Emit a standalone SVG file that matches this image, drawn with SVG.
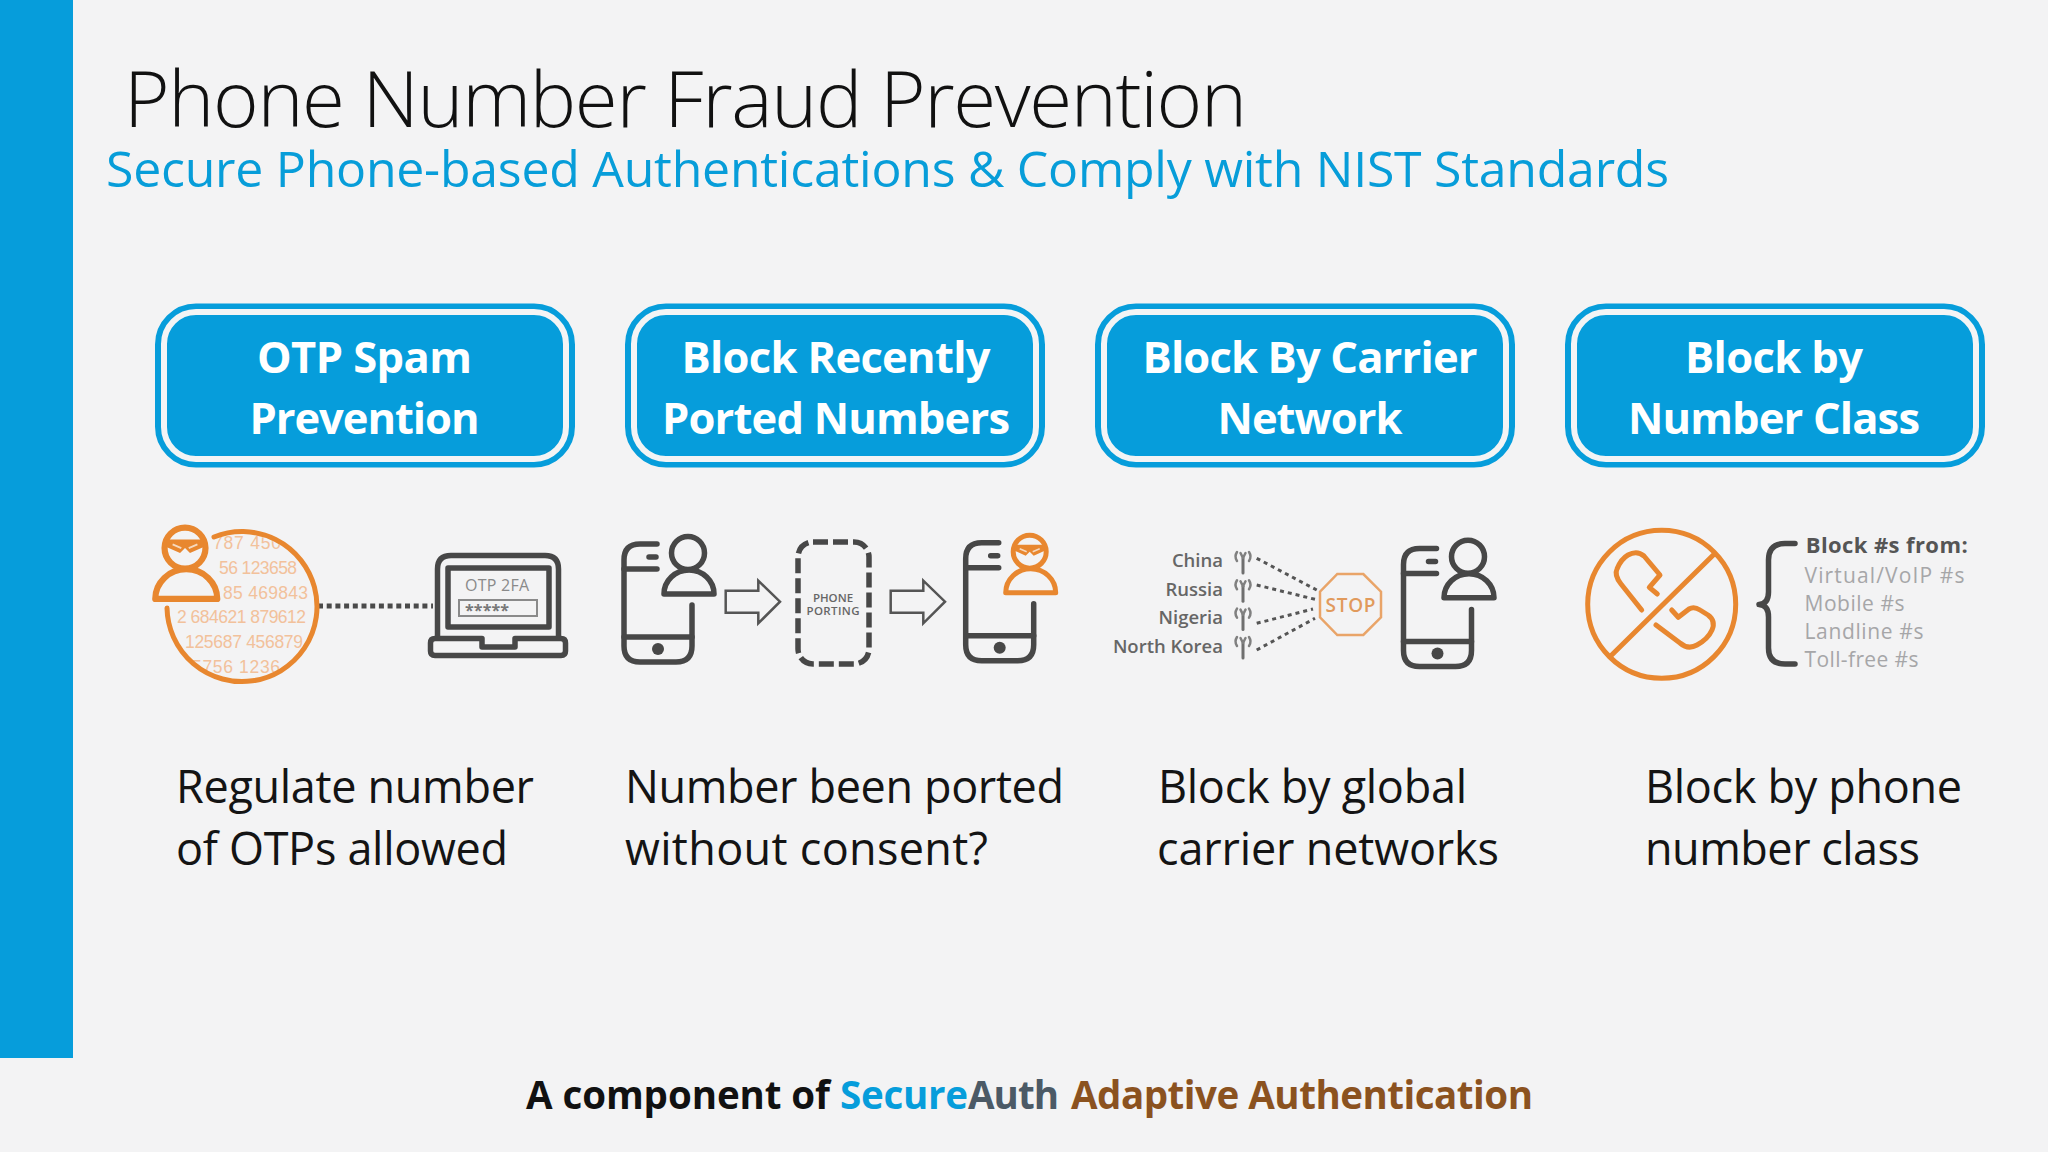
<svg xmlns="http://www.w3.org/2000/svg" width="2048" height="1152" viewBox="0 0 2048 1152">
<style>
text{font-family:"Open Sans","Noto Sans","Liberation Sans",sans-serif}
.hd{font-size:43.500px;font-weight:700;fill:#fff;text-anchor:middle}
.bd{font-size:45px;fill:#141414}
.ft{font-size:38.500px;font-weight:700}
.dk{fill:none;stroke:#474747;stroke-width:5.500;stroke-linecap:round;stroke-linejoin:round}
.or{fill:none;stroke:#e8872f;stroke-width:5;stroke-linecap:round;stroke-linejoin:round}
.num{font-size:17.500px;fill:#f2c19b;font-family:"Liberation Sans",sans-serif}
.cty{font-size:18.500px;font-weight:600;fill:#666;text-anchor:end}
.cls{font-size:21px;fill:#a6a6a8}
.dot{fill:none;stroke:#555;stroke-width:3;stroke-dasharray:4 4}
.arw{fill:none;stroke:#555;stroke-width:2.500;stroke-linejoin:miter}
.ant{fill:none;stroke:#808080;stroke-width:2.500;stroke-linecap:round}
.blue{fill:#069ddb;stroke:#069ddb;stroke-width:6}
.ring{fill:none;stroke:#f3f4f5;stroke-width:6}
</style>
<defs>
<clipPath id="numclip"><circle cx="241" cy="607" r="73"/></clipPath>
<g id="phone">
<path class="dk" d="M657,544H640Q624,544 624,560V646Q624,662 640,662H676Q692,662 692,646V605"/>
<path class="dk" d="M624,569H657M649,557H656M624,637H692"/>
<circle cx="658" cy="649" r="6" fill="#474747"/>
</g>
<g id="person">
<circle class="dk" cx="688" cy="553" r="16.500"/>
<path class="dk" d="M664,594A25,24 0 0 1 714,594Z"/>
</g>
<g id="bandit">
<circle class="or" cx="688" cy="553" r="16.500"/>
<path class="or" d="M664,594A25,24 0 0 1 714,594Z"/>
<path d="M673,546H703L703,552L692,557L688,553L684,557L673,552Z" fill="#e8872f"/>
<path d="M678,550L685,553M698,550L691,553" stroke="#f6d9bf" stroke-width="1.500" fill="none"/>
</g>
<g id="antenna">
<path d="M1243,558V573" fill="none" stroke="#6f6f6f" stroke-width="3" stroke-linecap="round"/>
<path class="ant" d="M1243,558L1240.500,553M1243,558L1245.500,553M1237,552Q1234,556.500 1237,561M1249,552Q1252,556.500 1249,561"/>
</g>
</defs>
<rect id="background" width="2048" height="1152" fill="#f3f3f4"/>
<rect id="sidebar" width="73" height="1058" fill="#069ddb"/>
<g id="heading">
<text x="124" y="127" font-size="78" font-weight="350" fill="#111" textLength="1123">Phone Number Fraud Prevention</text>
<text x="106" y="186.500" font-size="50" fill="#079dd9" textLength="1563">Secure Phone-based Authentications &amp; Comply with NIST Standards</text>
</g>
<g id="connectors">
<path d="M318,606H433" fill="none" stroke="#4a4a4a" stroke-width="5" stroke-dasharray="5 3.700"/>
<path class="arw" d="M725.700,590.700H758.300V580.700L780,601.700L758.300,623.300V612.700H725.700Z"/>
<path class="arw" transform="translate(165,0)" d="M725.700,590.700H758.300V580.700L780,601.700L758.300,623.300V612.700H725.700Z"/>
<path class="dot" d="M1256.700,558.300L1316.700,590M1256.700,585L1315,599.300M1256.700,623.300L1313,609M1256.700,650L1315,618.300"/>
</g>
<g id="node-otp-spam">
<rect class="blue" x="158" y="306.500" width="414" height="158" rx="38"/>
<rect class="ring" x="164" y="312" width="402" height="147" rx="32"/>
<text class="hd" x="364.500" y="372.500" textLength="215">OTP Spam</text>
<text class="hd" x="364.500" y="433.500" textLength="230">Prevention</text>
</g>
<g id="node-ported">
<rect class="blue" x="628" y="306.500" width="414" height="158" rx="38"/>
<rect class="ring" x="634" y="312" width="402" height="147" rx="32"/>
<text class="hd" x="836" y="372.500" textLength="309">Block Recently</text>
<text class="hd" x="836" y="433.500" textLength="348">Ported Numbers</text>
</g>
<g id="node-carrier">
<rect class="blue" x="1098" y="306.500" width="414" height="158" rx="38"/>
<rect class="ring" x="1104" y="312" width="402" height="147" rx="32"/>
<text class="hd" x="1310" y="372.500" textLength="335">Block By Carrier</text>
<text class="hd" x="1310" y="433.500" textLength="185">Network</text>
</g>
<g id="node-class">
<rect class="blue" x="1568" y="306.500" width="414" height="158" rx="38"/>
<rect class="ring" x="1574" y="312" width="402" height="147" rx="32"/>
<text class="hd" x="1774" y="372.500" textLength="178">Block by</text>
<text class="hd" x="1774" y="433.500" textLength="292">Number Class</text>
</g>
<g id="icon-otp">
<g clip-path="url(#numclip)">
<text class="num" x="213" y="549" textLength="68">787 450</text>
<text class="num" x="219" y="574" textLength="78">56 123658</text>
<text class="num" x="223" y="599" textLength="85">85 469843</text>
<text class="num" x="177" y="623" textLength="129">2 684621 879612</text>
<text class="num" x="185" y="648" textLength="118">125687 456879</text>
<text class="num" x="192" y="673" textLength="88">5756 1236</text>
</g>
<path class="or" d="M214,537A75,75 0 1 1 167,608"/>
<use href="#bandit" transform="translate(-668.100,-137.600) scale(1.240)"/>
<path class="dk" d="M437.500,637V569Q437.500,555.500 451,555.500H545Q558.500,555.500 558.500,569V637"/>
<rect class="dk" x="448" y="568" width="101" height="59"/>
<path class="dk" d="M435,638.500H482V647H515V638.500H561Q565.500,638.500 565.500,643V651Q565.500,655.500 561,655.500H435Q430.500,655.500 430.500,651V643Q430.500,638.500 435,638.500Z"/>
<text x="497" y="591" font-size="16" fill="#8a8a8a" text-anchor="middle" textLength="64">OTP 2FA</text>
<rect x="459" y="600" width="78" height="16" fill="none" stroke="#8a8a8a" stroke-width="2"/>
<text x="465" y="616" font-size="16" font-weight="700" fill="#777" textLength="44">*****</text>
</g>
<g id="icon-porting">
<use href="#phone"/>
<use href="#person"/>
<rect x="798" y="542" width="71" height="122" rx="15" fill="none" stroke="#474747" stroke-width="5.500" stroke-dasharray="15 5"/>
<text x="833" y="602" font-size="11.500" font-weight="600" fill="#666" text-anchor="middle">PHONE</text>
<text x="833" y="615" font-size="11.500" font-weight="600" fill="#666" text-anchor="middle" textLength="53">PORTING</text>
<use href="#phone" transform="translate(341.700,-1.300)"/>
<use href="#bandit" transform="translate(341.700,-1.300)"/>
</g>
<g id="icon-carrier">
<text class="cty" x="1223" y="567">China</text>
<text class="cty" x="1223" y="595.500">Russia</text>
<text class="cty" x="1223" y="624">Nigeria</text>
<text class="cty" x="1223" y="652.500">North Korea</text>
<use href="#antenna"/>
<use href="#antenna" y="28.300"/>
<use href="#antenna" y="56.600"/>
<use href="#antenna" y="85"/>
<polygon points="1337.300,574 1363.300,574 1381,591.700 1381,617.300 1363.300,635 1337.300,635 1320,617.300 1320,591.700" fill="none" stroke="#e9a468" stroke-width="2.500"/>
<text x="1350.500" y="611.500" font-size="19" font-weight="600" fill="#e19a5c" text-anchor="middle" textLength="50">STOP</text>
<use href="#phone" transform="translate(779.500,4.500)"/>
<use href="#person" transform="translate(780,3.700)"/>
</g>
<g id="icon-class">
<circle class="or" cx="1661.700" cy="604.300" r="74"/>
<path class="or" d="M1611.700,655L1713.300,555"/>
<path class="or" d="M1641.700,610L1621,584Q1614,575 1617,569Q1621,559 1628,555Q1637,550 1644,556L1660,575L1649.300,587.300L1657.300,594"/>
<path class="or" d="M1656,625L1680,643Q1688,650 1697,645Q1708,639 1712,630Q1716,621 1708,615L1700,610Q1694,606 1689,609L1678.300,617.300L1671.700,610"/>
<path class="dk" d="M1795,543.500H1785Q1768.500,543.500 1768.500,560V592Q1768.500,604 1759,604.500Q1768.500,605 1768.500,617V648Q1768.500,664 1785,664H1795"/>
<text x="1805.700" y="552.700" font-size="22" font-weight="700" fill="#555" textLength="162">Block #s from:</text>
<text class="cls" x="1804.500" y="582.700" textLength="160">Virtual/VoIP #s</text>
<text class="cls" x="1804.500" y="610.700" textLength="100">Mobile #s</text>
<text class="cls" x="1804.500" y="639" textLength="119">Landline #s</text>
<text class="cls" x="1804.500" y="667" textLength="114">Toll-free #s</text>
</g>
<g id="captions">
<text class="bd" x="176" y="803" textLength="358">Regulate number</text>
<text class="bd" x="176" y="865" textLength="332">of OTPs allowed</text>
<text class="bd" x="625" y="803" textLength="439">Number been ported</text>
<text class="bd" x="625" y="865" textLength="363">without consent?</text>
<text class="bd" x="1158" y="803" textLength="309">Block by global</text>
<text class="bd" x="1157" y="865" textLength="342">carrier networks</text>
<text class="bd" x="1645" y="803" textLength="317">Block by phone</text>
<text class="bd" x="1645" y="865" textLength="275">number class</text>
</g>
<g id="footer">
<text class="ft" x="526" y="1109" fill="#111" textLength="304">A component of</text>
<text class="ft" x="840" y="1109" fill="#069ddb" textLength="128">Secure</text>
<text class="ft" x="968" y="1109" fill="#4c5a66" textLength="91">Auth</text>
<text class="ft" x="1071" y="1109" fill="#8b521f" textLength="462">Adaptive Authentication</text>
</g>
</svg>
